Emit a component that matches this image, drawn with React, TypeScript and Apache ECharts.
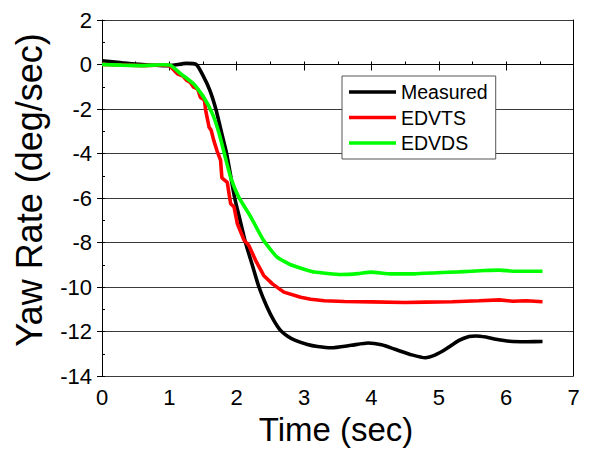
import React, { useEffect, useRef } from "react";
import * as echarts from "echarts";

const measuredT = [0, 0.3, 0.6, 0.9, 1.05, 1.25, 1.4, 1.5, 1.6, 1.69, 1.77, 1.85, 1.91, 1.97, 2.05, 2.13, 2.23, 2.33, 2.45, 2.55, 2.65, 2.75, 2.87, 3.05, 3.2, 3.4, 3.7, 3.95, 4.15, 4.35, 4.6, 4.8, 4.95, 5.1, 5.3, 5.45, 5.55, 5.7, 5.85, 6.05, 6.3, 6.54];
const measuredV = [0.17, 0.08, 0.0, -0.05, -0.04, 0.05, 0.0, -0.5, -1.15, -2.0, -3.0, -4.0, -5.0, -6.0, -7.0, -8.0, -9.0, -10.0, -10.9, -11.5, -11.95, -12.2, -12.4, -12.58, -12.67, -12.73, -12.62, -12.52, -12.6, -12.8, -13.05, -13.18, -13.05, -12.8, -12.4, -12.22, -12.2, -12.25, -12.35, -12.44, -12.46, -12.45];

const edvtsT = [0, 0.3, 0.6, 0.9, 1.0, 1.12, 1.2, 1.26, 1.31, 1.36, 1.42, 1.46, 1.52, 1.54, 1.59, 1.62, 1.66, 1.71, 1.76, 1.78, 1.86, 1.91, 1.96, 2.01, 2.11, 2.18, 2.28, 2.4, 2.53, 2.7, 2.95, 3.1, 3.3, 3.6, 4.0, 4.5, 4.8, 5.2, 5.6, 5.9, 6.1, 6.3, 6.54];
const edvtsV = [0.0, -0.02, -0.05, -0.02, -0.05, -0.42, -0.52, -0.72, -0.8, -1.02, -1.1, -1.47, -1.6, -2.07, -2.82, -2.95, -3.42, -3.9, -4.3, -5.1, -5.3, -6.26, -6.4, -7.16, -7.9, -8.13, -8.8, -9.48, -9.86, -10.23, -10.46, -10.55, -10.62, -10.65, -10.67, -10.7, -10.68, -10.66, -10.62, -10.58, -10.64, -10.62, -10.66];

const edvdsT = [0, 0.3, 0.6, 0.9, 1.02, 1.17, 1.36, 1.51, 1.64, 1.74, 1.83, 1.91, 2.03, 2.21, 2.4, 2.6, 2.8, 3.0, 3.15, 3.55, 3.8, 3.99, 4.29, 4.64, 4.98, 5.3, 5.68, 5.9, 6.12, 6.54];
const edvdsV = [0.0, -0.03, -0.05, -0.01, -0.04, -0.42, -0.87, -1.47, -2.22, -3.11, -4.17, -5.07, -5.96, -6.86, -7.91, -8.66, -9.0, -9.2, -9.33, -9.44, -9.4, -9.33, -9.41, -9.41, -9.36, -9.32, -9.26, -9.24, -9.29, -9.29];

const seriesNames = ["Measured", "EDVTS", "EDVDS"];
const seriesColors = ["#000000", "#ff0000", "#00ff00"];
const seriesSmooth = [0.2, 0, 0.15];
const xTicks = [0, 1, 2, 3, 4, 5, 6, 7];
const yTicks = [-14, -12, -10, -8, -6, -4, -2, 0, 2];

const FONT = "Arial, 'Liberation Sans', sans-serif";

function zip(t: number[], v: number[]) {
  return t.map((x, i) => [x, v[i]]);
}

export default function App() {
  const ref = useRef<HTMLDivElement>(null);
  useEffect(() => {
    if (!ref.current) return;
    document.body.style.margin = "0";
    const chart = echarts.init(ref.current, undefined, { renderer: "svg" });
    const xMin = xTicks[0];
    const xMax = xTicks[xTicks.length - 1];
    const yMin = yTicks[0];
    const yMax = yTicks[yTicks.length - 1];
    const datas = [zip(measuredT, measuredV), zip(edvtsT, edvtsV), zip(edvdsT, edvdsV)];
    chart.setOption({
      animation: false,
      backgroundColor: "#ffffff",
      grid: { left: 102, right: 15.5, top: 20, bottom: 76, outerBoundsMode: "none" },
      xAxis: [
        {
          type: "value", min: xMin, max: xMax, interval: 1, position: "bottom",
          axisLine: { show: true, lineStyle: { color: "#000", width: 1 } },
          axisTick: { show: true, inside: false, length: 6, lineStyle: { color: "#000" } },
          axisLabel: { color: "#000", fontSize: 22, fontFamily: FONT, margin: 10 },
          splitLine: { show: false },
        },
        {
          type: "value", min: xMin, max: xMax, interval: 0.5, position: "bottom",
          axisLine: { show: false },
          axisTick: { show: true, inside: true, length: 3, lineStyle: { color: "#000" } },
          axisLabel: { show: false },
          splitLine: { show: false },
        },
      ],
      yAxis: [
        {
          type: "value", min: yMin, max: yMax, interval: 2, position: "left",
          axisLine: { show: true, lineStyle: { color: "#000", width: 1 } },
          axisTick: { show: true, inside: false, length: 5, lineStyle: { color: "#000" } },
          axisLabel: { color: "#000", fontSize: 22, fontFamily: FONT, margin: 10 },
          splitLine: { show: true, lineStyle: { color: "#3a3a3a", width: 1 } },
        },
        {
          type: "value", min: yMin, max: yMax, interval: 1, position: "left",
          axisLine: { show: false },
          axisTick: { show: true, inside: true, length: 3, lineStyle: { color: "#000" } },
          axisLabel: { show: false },
          splitLine: { show: false },
        },
        {
          type: "value", min: yMin, max: yMax, interval: 2, position: "right",
          axisLine: { show: true, onZero: false, lineStyle: { color: "#000", width: 1 } },
          axisTick: { show: false },
          axisLabel: { show: false },
          splitLine: { show: false },
        },
      ],
      legend: {
        show: true,
        orient: "vertical",
        left: 342,
        top: 76,
        data: seriesNames,
        icon: "rect",
        itemWidth: 47,
        itemHeight: 3.5,
        itemGap: 5.5,
        padding: [6, 8, 6, 7],
        borderColor: "#555",
        borderWidth: 1,
        backgroundColor: "#ffffff",
        textStyle: { color: "#000", fontSize: 19.5, fontFamily: FONT, lineHeight: 18 },
      },
      graphic: [
        {
          type: "text",
          x: 29,
          y: 190,
          rotation: Math.PI / 2,
          style: {
            text: "Yaw Rate (deg/sec)",
            fill: "#000",
            font: `36px ${FONT}`,
            align: "center",
            verticalAlign: "middle",
          },
        },
        {
          type: "text",
          x: 336,
          y: 429,
          style: {
            text: "Time (sec)",
            fill: "#000",
            font: `33px ${FONT}`,
            align: "center",
            verticalAlign: "middle",
          },
        },
      ],
      series: seriesNames.map((name, i) => ({
        name,
        type: "line",
        xAxisIndex: 0,
        yAxisIndex: 0,
        data: datas[i],
        showSymbol: false,
        symbol: "none",
        smooth: seriesSmooth[i],
        color: seriesColors[i],
        lineStyle: { color: seriesColors[i], width: 3.6 },
        z: 3 + i,
      })),
    });
    return () => chart.dispose();
  }, []);
  return <div ref={ref} style={{ width: 589, height: 452 }} />;
}
